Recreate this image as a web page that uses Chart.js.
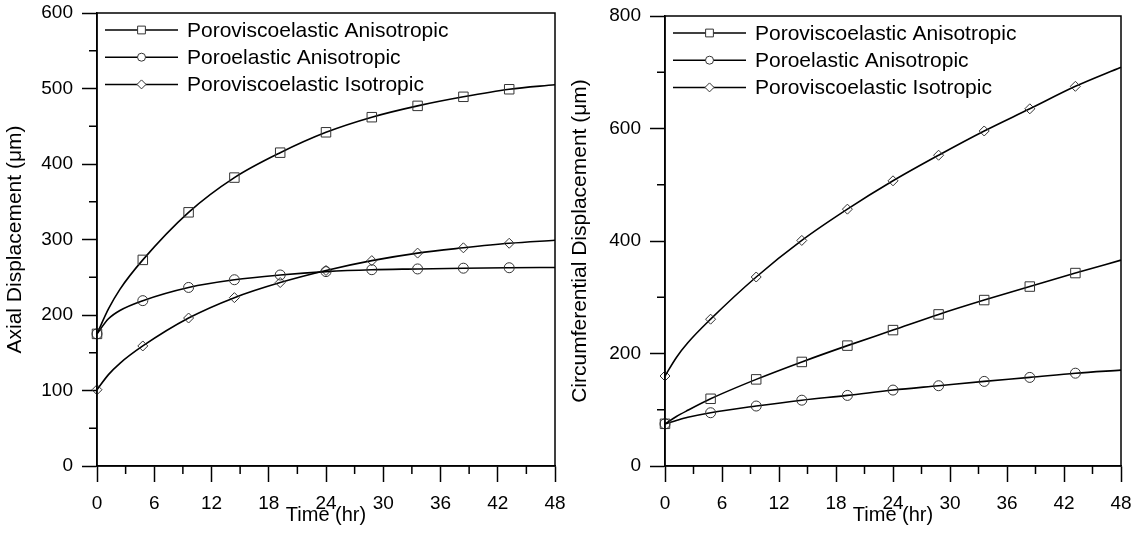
<!DOCTYPE html>
<html><head><meta charset="utf-8">
<script src="https://cdn.jsdelivr.net/npm/chart.js@4/dist/chart.umd.min.js"></script>
<style>
html,body{margin:0;padding:0;background:#fff;width:1134px;height:535px;overflow:hidden}
.box{position:absolute;top:0;width:567px;height:535px}
</style></head><body>
<div class="box" style="left:0"><canvas id="c1" width="567" height="535"></canvas></div>
<div class="box" style="left:567px"><canvas id="c2" width="567" height="535"></canvas></div>
<script>
// ---- data ----
const times      = [0, 1.2, 2.4, 4.8, 9.6, 14.4, 19.2, 24, 28.8, 33.6, 38.4, 43.2, 48];
const hasMarker  = [1, 0,   0,   1,   1,   1,    1,    1,  1,    1,    1,    1,    0];
const seriesNames = ['Poroviscoelastic Anisotropic', 'Poroelastic Anisotropic', 'Poroviscoelastic Isotropic'];
const markerStyles = ['rect', 'circle', 'rectRot'];

const axialPVA = [175, 208, 234, 273, 336, 382, 415, 442, 462, 477, 489, 499, 505];
const axialPEA = [175, 195, 206, 219, 236.5, 246.7, 253, 257.5, 260, 261, 262, 262.6, 263];
const axialPVI = [101, 121, 136, 159, 196, 223, 243, 259, 272, 282, 289, 295, 299];

const circPVA = [75, 88, 99, 119.5, 154, 185, 214, 241.6, 269.5, 295, 319, 343, 366];
const circPEA = [75, 81, 86.5, 94.7, 106.6, 117, 125.5, 135, 142.7, 150.4, 157.5, 165, 170.5];
const circPVI = [160, 193, 219, 261, 336, 401, 456.6, 507, 552.5, 595.6, 635, 675, 709];

const xTicksMajor = [0, 6, 12, 18, 24, 30, 36, 42, 48];
const xTicksMinor = [3, 9, 15, 21, 27, 33, 39, 45];
const axialTicksMinor = [50, 150, 250, 350, 450, 550];
const circTicksMinor = [100, 300, 500, 700];

// ---- styling ----
const FONT = "'Liberation Sans', Arial, Helvetica, sans-serif";
Chart.defaults.font.family = FONT;
Chart.defaults.color = '#000';

const markerRadius = {rect: 6.7, circle: 5, rectRot: 5};
const legendRadius = {rect: 5.5, circle: 4, rectRot: 4.5};

function drawMarker(ctx, style, x, y, r) {
  ctx.beginPath();
  if (style === 'rect') {
    const s = Math.SQRT1_2 * r;
    ctx.rect(x - s, y - s, 2 * s, 2 * s);
  } else if (style === 'circle') {
    ctx.arc(x, y, r, 0, Math.PI * 2);
  } else {
    ctx.moveTo(x, y - r); ctx.lineTo(x + r, y); ctx.lineTo(x, y + r); ctx.lineTo(x - r, y); ctx.closePath();
  }
  ctx.fillStyle = '#fff';
  ctx.fill();
  ctx.stroke();
}

const framePlugin = {
  id: 'frame',
  afterDraw(chart, args, opts) {
    const {ctx, chartArea: a, scales} = chart;
    ctx.save();
    ctx.strokeStyle = '#000';
    ctx.lineWidth = 1.5;
    ctx.strokeRect(a.left, a.top, a.right - a.left, a.bottom - a.top);
    ctx.beginPath();
    for (const v of opts.yMinor) {
      const p = scales.y.getPixelForValue(v);
      ctx.moveTo(a.left - 8, p); ctx.lineTo(a.left, p);
    }
    for (const v of opts.xMinor) {
      const p = scales.x.getPixelForValue(v);
      ctx.moveTo(p, a.bottom); ctx.lineTo(p, a.bottom + 8);
    }
    ctx.stroke();
    // legend
    ctx.font = '21px ' + FONT;
    ctx.textBaseline = 'middle';
    ctx.textAlign = 'left';
    chart.data.datasets.forEach((ds, i) => {
      const y = a.top + 17 + i * 27.2;
      ctx.strokeStyle = '#000';
      ctx.lineWidth = 1.5;
      ctx.beginPath();
      ctx.moveTo(a.left + 8, y); ctx.lineTo(a.left + 81, y);
      ctx.stroke();
      ctx.strokeStyle = '#333';
      ctx.lineWidth = 1;
      drawMarker(ctx, ds.pointStyle, a.left + 44.5, y, legendRadius[ds.pointStyle]);
      ctx.fillStyle = '#000';
      ctx.fillText(ds.label, a.left + 90, y + 1);
    });
    ctx.restore();
  }
};

function makeDataset(name, style, values) {
  return {
    label: name,
    data: times.map((t, i) => ({x: t, y: values[i]})),
    borderColor: '#000',
    borderWidth: 1.6,
    pointStyle: style,
    pointRadius: hasMarker.map(m => m ? markerRadius[style] : 0),
    pointBorderColor: '#333',
    pointBorderWidth: 1,
    pointBackgroundColor: 'rgba(255,255,255,0)',
    cubicInterpolationMode: 'monotone',
    fill: false,
    clip: false
  };
}

function makeChart(id, series, yMax, yStep, yTitle, yMinor, pad, yWidth, yTitlePad) {
  return new Chart(document.getElementById(id), {
    type: 'line',
    data: {
      datasets: series.map((s, i) => makeDataset(seriesNames[i], markerStyles[i], s))
    },
    options: {
      responsive: false,
      animation: false,
      events: [],
      layout: {padding: pad},
      plugins: {legend: {display: false}, tooltip: {enabled: false}, frame: {yMinor: yMinor, xMinor: xTicksMinor}},
      scales: {
        x: {
          type: 'linear', min: 0, max: 48,
          afterBuildTicks: s => { s.ticks = xTicksMajor.map(v => ({value: v})); },
          afterFit: s => { s.height = 69; s.paddingLeft = 0; s.paddingRight = 0; },
          grid: {drawOnChartArea: false, drawTicks: true, tickLength: 16, tickWidth: 1.5, tickColor: '#000'},
          border: {display: true, color: '#000', width: 1.5},
          ticks: {font: {size: 19}, color: '#000', padding: 10, maxRotation: 0},
          title: {display: true, text: 'Time (hr)', font: {size: 20}, color: '#000', padding: {top: 0, bottom: 8}}
        },
        y: {
          type: 'linear', min: 0, max: yMax,
          ticks: {stepSize: yStep, font: {size: 19}, color: '#000', padding: 9},
          afterFit: s => { s.width = yWidth; s.paddingTop = 0; s.paddingBottom = 0; },
          grid: {drawOnChartArea: false, drawTicks: true, tickLength: 15, tickWidth: 1.5, tickColor: '#000'},
          border: {display: true, color: '#000', width: 1.5},
          title: {display: true, text: yTitle, font: {size: 21}, color: '#000', padding: {top: yTitlePad, bottom: 0}}
        }
      }
    },
    plugins: [framePlugin]
  });
}

makeChart('c1', [axialPVA, axialPEA, axialPVI], 600, 100, 'Axial Displacement (\u03bcm)', axialTicksMinor,
  {left: 0, right: 12, top: 13, bottom: 0}, 97, 3);
makeChart('c2', [circPVA, circPEA, circPVI], 800, 200, 'Circumferential Displacement (\u03bcm)', circTicksMinor,
  {left: 0, right: 13, top: 16, bottom: 0}, 98, 1);
</script>
</body></html>
